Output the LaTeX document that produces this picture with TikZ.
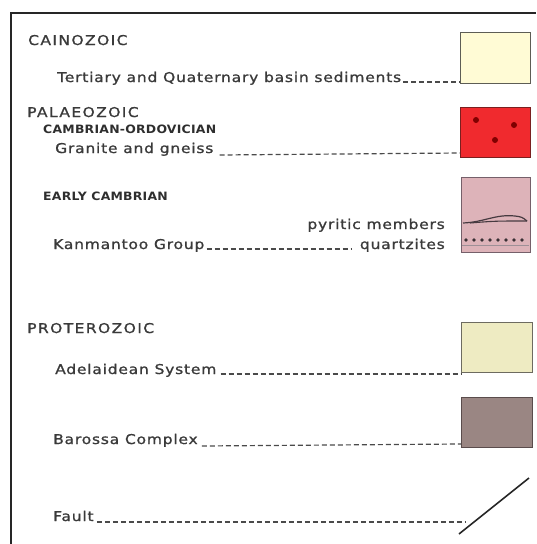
\documentclass[tikz,border=0pt]{standalone}
\usepackage{fontspec}
\usepackage{graphicx}
\usetikzlibrary{calc}
\newfontfamily\bodyf[LetterSpace=5,FakeBold=1]{DejaVu Sans}
\newfontfamily\headf[LetterSpace=9,FakeBold=1]{DejaVu Sans}
\newfontfamily\boldf[LetterSpace=2]{DejaVu Sans}
\newcommand{\wideT}[1]{\scalebox{1.15}[1]{#1}}
\newcommand{\wideB}[1]{\scalebox{1.08}[1]{#1}}
\definecolor{txt}{HTML}{3A3A3A}
\definecolor{dsh}{HTML}{4A4A4A}
\definecolor{fA}{HTML}{FFFBD5}\definecolor{dA}{HTML}{5D5D55}
\definecolor{fB}{HTML}{F02A2E}\definecolor{dB}{HTML}{7A1F1F}
\definecolor{fC}{HTML}{DDB3B9}\definecolor{dC}{HTML}{75606A}
\definecolor{fD}{HTML}{EEEBC2}\definecolor{dD}{HTML}{6D6B60}
\definecolor{fE}{HTML}{9A8683}\definecolor{dE}{HTML}{5A4C4C}
\begin{document}
\begin{tikzpicture}[x=1pt,y=-1pt,
  heading/.style={anchor=base west,inner sep=0pt,text=txt,font=\headf\fontsize{13.5}{15}\selectfont},
  subhead/.style={anchor=base west,inner sep=0pt,text=txt!80!black,font=\boldf\bfseries\fontsize{11.5}{13}\selectfont},
  item/.style={anchor=base west,inner sep=0pt,text=txt,font=\bodyf\fontsize{13.5}{15}\selectfont},
  itemr/.style={item,anchor=base east},
  leader/.style={draw=dsh,line width=1.2pt,dash pattern=on 5pt off 3pt},
  keybox/.style={line width=1.4pt,minimum width=#1,inner sep=0pt,anchor=north west},
]
\useasboundingbox (0,0) rectangle (536,544);
% frame
\draw[line width=2pt,color=black!85] (11,544) -- (11,13) -- (536,13);

% boxes
\node[keybox=70pt,minimum height=51pt,fill=fA,draw=dA] (b1) at (460,32) {};
\node[keybox=70pt,minimum height=50pt,fill=fB,draw=dB] (b2) at (460,107) {};
\node[keybox=69pt,minimum height=75pt,fill=fC,draw=dC] (b3) at (461,177) {};
\node[keybox=71pt,minimum height=50pt,fill=fD,draw=dD] (b4) at (461,322) {};
\node[keybox=71pt,minimum height=50pt,fill=fE,draw=dE] (b5) at (461,397) {};

% red box dots
\fill[color=black!50!red] (476,120) circle (3pt) (514,125) circle (3pt) (495,140) circle (3pt);
% Kanmantoo symbols
\draw[color=dC!60!black,line width=1.2pt] (463,223) .. controls (485,222) and (495,214) .. (515,216) .. controls (522,217) .. (527,221);
\draw[color=dC!60!black,line width=1.1pt] (470,223) .. controls (495,221) .. (527,221);
\foreach \xx in {466,474,...,528} \fill[color=dC!50!black] (\xx,240) circle (1.8pt);
\draw[color=dC!70,line width=0.7pt] (462,245) -- (529,245);

% texts
\node[heading] (cai) at (28,45) {\wideT{CAINOZOIC}};
\node[item] (ter) at (57,82) {\wideT{Tertiary and Quaternary basin sediments}};
\node[heading] (pal) at (27,117) {\wideT{PALAEOZOIC}};
\node[subhead] (cam) at (43,133) {\wideB{CAMBRIAN-ORDOVICIAN}};
\node[item] (gra) at (55,153) {\wideT{Granite and gneiss}};
\node[subhead] (ear) at (43,200) {\wideB{EARLY CAMBRIAN}};
\node[itemr] (pyr) at (445,229) {\wideT{pyritic members}};
\node[item] (kan) at (53,249) {\wideT{Kanmantoo Group}};
\node[itemr] (qua) at (445,249) {\wideT{quartzites}};
\node[heading] (pro) at (27,333) {\wideT{PROTEROZOIC}};
\node[item] (ade) at (55,374) {\wideT{Adelaidean System}};
\node[item] (bar) at (53,444) {\wideT{Barossa Complex}};
\node[item] (fau) at (53,521) {\wideT{Fault}};

% leaders
\draw[leader] ($(ter.base east)+(2,0)$) -- (ter.base east -| b1.west);
\draw[leader] ($(gra.base east)+(6,2)$) -- (gra.base east -| b2.west);
\draw[leader] ($(kan.base east)+(2,0)$) -- ($(qua.base west)+(-8,0)$);
\draw[leader] ($(ade.base east)+(4,0)$) -- (ade.base east -| b4.west);
\draw[leader] ($(bar.base east)+(4,2)$) -- (bar.base east -| b5.west);

% fault
\coordinate (f1) at (459,534);
\coordinate (f2) at (529,478);
\draw[line width=1.6pt,color=black!85] (f1) -- (f2);
\draw[leader] ($(fau.base east)+(3,1)$) -- (465,522);
\end{tikzpicture}
\end{document}
